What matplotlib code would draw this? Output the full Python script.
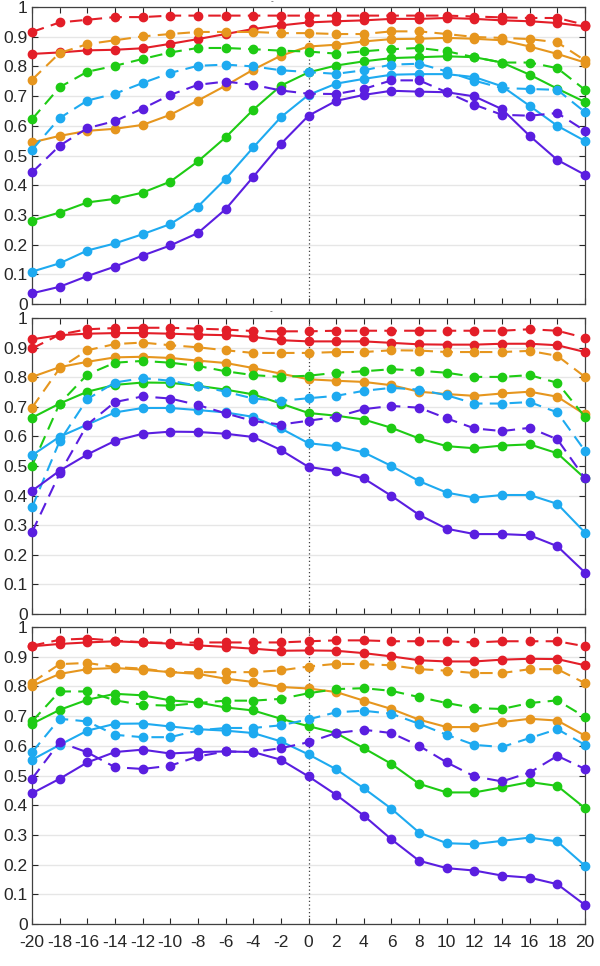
import matplotlib
matplotlib.use("Agg")
import matplotlib.pyplot as plt
import numpy as np

plt.rcParams['font.family'] = ['Liberation Sans', 'DejaVu Sans']

x = list(range(-20, 21, 2))

colors = {"red": "#e31e28", "orange": "#e6961e", "green": "#1ecb14",
          "blue": "#1eaaf0", "purple": "#5a1ee0"}

# Panel 1
p1_red_solid = [0.842, 0.847, 0.854, 0.856, 0.861, 0.876, 0.892, 0.909, 0.926, 0.938, 0.948,
                0.952, 0.955, 0.960, 0.960, 0.963, 0.960, 0.955, 0.952, 0.946, 0.935]
p1_red_dash = [0.916, 0.948, 0.957, 0.966, 0.966, 0.971, 0.971, 0.971, 0.971, 0.971, 0.971,
               0.971, 0.971, 0.971, 0.971, 0.971, 0.968, 0.965, 0.963, 0.963, 0.940]
p1_orange_solid = [0.544, 0.566, 0.583, 0.590, 0.603, 0.637, 0.685, 0.735, 0.789, 0.836, 0.867,
                   0.873, 0.884, 0.892, 0.893, 0.896, 0.893, 0.888, 0.867, 0.842, 0.813]
p1_orange_dash = [0.755, 0.845, 0.875, 0.888, 0.901, 0.909, 0.916, 0.916, 0.916, 0.912, 0.912,
                  0.909, 0.909, 0.918, 0.918, 0.909, 0.899, 0.896, 0.892, 0.881, 0.820]
p1_green_solid = [0.281, 0.308, 0.342, 0.354, 0.375, 0.412, 0.480, 0.561, 0.654, 0.735, 0.780,
                  0.803, 0.817, 0.828, 0.831, 0.834, 0.831, 0.813, 0.772, 0.725, 0.680]
p1_green_dash = [0.622, 0.730, 0.782, 0.802, 0.825, 0.847, 0.862, 0.862, 0.858, 0.853, 0.850,
                 0.843, 0.851, 0.858, 0.862, 0.851, 0.831, 0.813, 0.813, 0.794, 0.721]
p1_blue_solid = [0.109, 0.137, 0.180, 0.204, 0.235, 0.269, 0.328, 0.421, 0.527, 0.629, 0.704,
                 0.742, 0.758, 0.772, 0.774, 0.774, 0.764, 0.733, 0.667, 0.600, 0.549]
p1_blue_dash = [0.519, 0.626, 0.685, 0.708, 0.744, 0.778, 0.802, 0.806, 0.800, 0.787, 0.781,
                0.775, 0.787, 0.806, 0.809, 0.783, 0.752, 0.727, 0.724, 0.721, 0.646]
p1_purple_solid = [0.036, 0.058, 0.094, 0.126, 0.163, 0.197, 0.239, 0.319, 0.428, 0.539, 0.634,
                   0.684, 0.704, 0.718, 0.715, 0.713, 0.699, 0.656, 0.566, 0.485, 0.435]
p1_purple_dash = [0.443, 0.533, 0.592, 0.616, 0.658, 0.704, 0.738, 0.749, 0.738, 0.719, 0.708,
                  0.707, 0.724, 0.753, 0.753, 0.713, 0.671, 0.637, 0.634, 0.643, 0.583]

# Panel 2
p2_red_solid = [0.928, 0.942, 0.947, 0.949, 0.949, 0.947, 0.944, 0.942, 0.936, 0.925, 0.921,
                0.921, 0.921, 0.916, 0.911, 0.910, 0.910, 0.913, 0.913, 0.908, 0.885]
p2_red_dash = [0.897, 0.944, 0.962, 0.966, 0.967, 0.967, 0.964, 0.961, 0.956, 0.955, 0.955,
               0.957, 0.957, 0.957, 0.957, 0.957, 0.957, 0.957, 0.962, 0.957, 0.933]
p2_orange_solid = [0.801, 0.834, 0.852, 0.867, 0.869, 0.865, 0.856, 0.848, 0.831, 0.812, 0.793,
                   0.788, 0.784, 0.773, 0.751, 0.743, 0.737, 0.745, 0.751, 0.734, 0.674]
p2_orange_dash = [0.697, 0.830, 0.891, 0.912, 0.917, 0.908, 0.901, 0.891, 0.882, 0.882, 0.882,
                  0.885, 0.885, 0.891, 0.890, 0.885, 0.885, 0.885, 0.889, 0.872, 0.801]
p2_green_solid = [0.663, 0.711, 0.751, 0.774, 0.782, 0.781, 0.771, 0.758, 0.742, 0.711, 0.679,
                  0.670, 0.657, 0.629, 0.593, 0.567, 0.560, 0.569, 0.573, 0.543, 0.458]
p2_green_dash = [0.501, 0.711, 0.809, 0.849, 0.855, 0.849, 0.838, 0.820, 0.807, 0.801, 0.805,
                 0.815, 0.820, 0.827, 0.822, 0.815, 0.801, 0.801, 0.807, 0.781, 0.666]
p2_blue_solid = [0.536, 0.599, 0.640, 0.681, 0.696, 0.696, 0.689, 0.681, 0.666, 0.627, 0.577,
                 0.567, 0.546, 0.500, 0.449, 0.410, 0.393, 0.402, 0.402, 0.372, 0.275]
p2_blue_dash = [0.360, 0.584, 0.726, 0.782, 0.797, 0.788, 0.771, 0.751, 0.728, 0.720, 0.729,
                0.737, 0.754, 0.764, 0.758, 0.739, 0.711, 0.711, 0.716, 0.681, 0.551]
p2_purple_solid = [0.416, 0.484, 0.539, 0.585, 0.609, 0.616, 0.615, 0.609, 0.598, 0.554, 0.497,
                   0.483, 0.458, 0.399, 0.335, 0.288, 0.270, 0.270, 0.266, 0.229, 0.140]
p2_purple_dash = [0.276, 0.475, 0.640, 0.716, 0.735, 0.728, 0.706, 0.678, 0.652, 0.640, 0.653,
                  0.666, 0.692, 0.703, 0.697, 0.661, 0.627, 0.618, 0.629, 0.590, 0.458]

# Panel 3
p3_red_solid = [0.935, 0.943, 0.948, 0.952, 0.948, 0.944, 0.938, 0.933, 0.927, 0.920, 0.921,
                0.920, 0.912, 0.901, 0.888, 0.884, 0.884, 0.890, 0.893, 0.892, 0.871]
p3_red_dash = [0.937, 0.957, 0.961, 0.954, 0.949, 0.946, 0.948, 0.948, 0.948, 0.948, 0.952,
               0.955, 0.955, 0.952, 0.952, 0.952, 0.948, 0.952, 0.952, 0.952, 0.935]
p3_orange_solid = [0.802, 0.842, 0.858, 0.862, 0.856, 0.848, 0.842, 0.826, 0.815, 0.798, 0.793,
                   0.781, 0.752, 0.724, 0.688, 0.663, 0.663, 0.680, 0.691, 0.685, 0.634]
p3_orange_dash = [0.813, 0.875, 0.879, 0.865, 0.860, 0.848, 0.848, 0.848, 0.848, 0.854, 0.867,
                  0.876, 0.875, 0.871, 0.858, 0.853, 0.845, 0.845, 0.858, 0.858, 0.811]
p3_green_solid = [0.674, 0.721, 0.755, 0.775, 0.770, 0.753, 0.746, 0.729, 0.719, 0.691, 0.666,
                  0.643, 0.592, 0.539, 0.472, 0.443, 0.443, 0.460, 0.478, 0.465, 0.390]
p3_green_dash = [0.682, 0.783, 0.783, 0.753, 0.738, 0.735, 0.744, 0.752, 0.752, 0.758, 0.777,
                 0.791, 0.794, 0.785, 0.764, 0.744, 0.727, 0.724, 0.744, 0.753, 0.697]
p3_blue_solid = [0.553, 0.603, 0.651, 0.674, 0.675, 0.665, 0.656, 0.651, 0.643, 0.615, 0.571,
                 0.521, 0.457, 0.388, 0.308, 0.272, 0.269, 0.280, 0.291, 0.278, 0.196]
p3_blue_dash = [0.578, 0.691, 0.682, 0.637, 0.629, 0.629, 0.652, 0.660, 0.660, 0.669, 0.689,
                0.713, 0.718, 0.708, 0.674, 0.637, 0.603, 0.596, 0.626, 0.656, 0.603]
p3_purple_solid = [0.440, 0.489, 0.544, 0.579, 0.587, 0.574, 0.579, 0.581, 0.579, 0.553, 0.497,
                   0.435, 0.365, 0.285, 0.213, 0.188, 0.180, 0.163, 0.156, 0.134, 0.064]
p3_purple_dash = [0.489, 0.612, 0.578, 0.528, 0.522, 0.533, 0.564, 0.581, 0.579, 0.592, 0.612,
                  0.643, 0.654, 0.643, 0.600, 0.544, 0.497, 0.480, 0.510, 0.566, 0.522]

panels = [
    [("red", p1_red_solid, p1_red_dash), ("orange", p1_orange_solid, p1_orange_dash),
     ("green", p1_green_solid, p1_green_dash), ("blue", p1_blue_solid, p1_blue_dash),
     ("purple", p1_purple_solid, p1_purple_dash)],
    [("red", p2_red_solid, p2_red_dash), ("orange", p2_orange_solid, p2_orange_dash),
     ("green", p2_green_solid, p2_green_dash), ("blue", p2_blue_solid, p2_blue_dash),
     ("purple", p2_purple_solid, p2_purple_dash)],
    [("red", p3_red_solid, p3_red_dash), ("orange", p3_orange_solid, p3_orange_dash),
     ("green", p3_green_solid, p3_green_dash), ("blue", p3_blue_solid, p3_blue_dash),
     ("purple", p3_purple_solid, p3_purple_dash)],
]

yticks = [0, 0.1, 0.2, 0.3, 0.4, 0.5, 0.6, 0.7, 0.8, 0.9, 1]
ytick_labels = ["0", "0.1", "0.2", "0.3", "0.4", "0.5", "0.6", "0.7", "0.8", "0.9", "1"]
xtick_labels = [str(v) for v in x]

fig = plt.figure(figsize=(6.0, 9.66), dpi=100)
W, H = 600, 966
boxes = [(7, 304), (318, 614), (627, 924)]
left, right = 32, 585

for i, (series, (top, bot)) in enumerate(zip(panels, boxes)):
    ax = fig.add_axes([left / W, 1 - bot / H, (right - left) / W, (bot - top) / H])
    ax.set_xlim(-20, 20)
    ax.set_ylim(0, 1)
    ax.set_yticks(yticks)
    ax.set_yticklabels(ytick_labels)
    ax.set_xticks(x)
    if i == 2:
        ax.set_xticklabels(xtick_labels)
    else:
        ax.set_xticklabels([])
    ax.yaxis.grid(True, color="#e6e6e6", linewidth=1.0)
    ax.set_axisbelow(True)
    ax.tick_params(direction="in", top=True, right=True, length=4, width=0.8,
                   labelsize=12.5, colors="#262626")
    ax.tick_params(axis="y", pad=3)
    ax.tick_params(axis="x", pad=8)
    for sp in ax.spines.values():
        sp.set_color("#404040")
        sp.set_linewidth(0.9)
    ax.axvline(0, color="#404040", linestyle=(0, (1, 2)), linewidth=0.9, zorder=1)
    for name, solid, dash in series:
        c = colors[name]
        ax.plot(x, dash, color=c, linestyle=(0, (6, 3.5)), linewidth=1.5, marker="o",
                markersize=6, clip_on=False, zorder=3)
        ax.plot(x, solid, color=c, linestyle="-", linewidth=1.5, marker="o",
                markersize=6, clip_on=False, zorder=3)

fig.text(272 / W, 1 - 2 / H, "-", fontsize=6, color="#404040", ha="center", va="center")
fig.text(271 / W, 1 - 312 / H, "-", fontsize=6, color="#404040", ha="center", va="center")

fig.savefig("out.png", dpi=100)
